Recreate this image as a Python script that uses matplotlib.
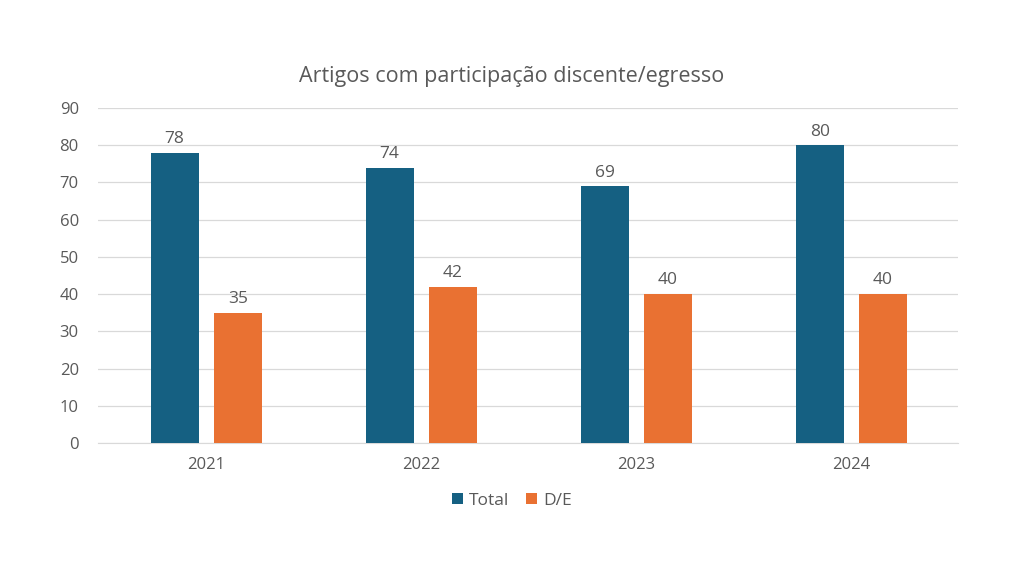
import matplotlib
matplotlib.use('Agg')
import matplotlib.pyplot as plt
import numpy as np

# Data
years = ['2021', '2022', '2023', '2024']
total = [78, 74, 69, 80]
de = [35, 42, 40, 40]

plt.rcParams['font.family'] = ['Open Sans', 'DejaVu Sans']
text_color = '#595959'

fig = plt.figure(figsize=(10.24, 5.76), dpi=100)
ax = fig.add_axes([0.096, 0.231, 0.84, 0.5815])

x = np.arange(len(years))
w = 0.223
b1 = ax.bar(x - 0.145, total, w, color='#156082', label='Total', zorder=3)
b2 = ax.bar(x + 0.149, de, w, color='#E97132', label='D/E', zorder=3)

for bars in (b1, b2):
    for r in bars:
        ax.text(r.get_x() + r.get_width() / 2, r.get_height() + 1.5, str(int(r.get_height())),
                ha='center', va='bottom', fontsize=12.5, color=text_color)

ax.set_xlim(-0.5, 3.5)
ax.set_ylim(0, 90)
ax.set_yticks(range(0, 91, 10))
ax.set_xticks(x)
ax.set_xticklabels(years)
ax.grid(axis='y', color='#D9D9D9', linewidth=0.9, zorder=0)
for s in ['top', 'right', 'left']:
    ax.spines[s].set_visible(False)
ax.spines['bottom'].set_color('#D9D9D9')
ax.tick_params(axis='both', length=0, labelsize=12, labelcolor=text_color)
ax.tick_params(axis='y', pad=14)
ax.tick_params(axis='x', pad=10)

fig.text(0.5, 0.868, 'Artigos com participação discente/egresso', ha='center', va='center',
         fontsize=15.5, color=text_color)

fig.legend(handles=[b1, b2], loc='center', bbox_to_anchor=(0.5, 0.131), ncol=2, frameon=False,
           fontsize=12.5, labelcolor=text_color, handlelength=0.6, handleheight=0.6,
           handletextpad=0.35, columnspacing=1.0)

fig.savefig('out.png', dpi=100)
